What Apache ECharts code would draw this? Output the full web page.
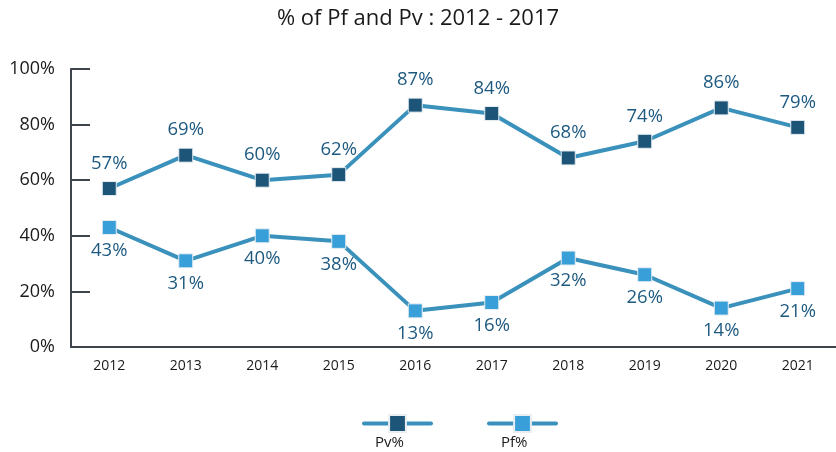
<!DOCTYPE html>
<html>
<head>
  <meta charset="UTF-8">
  <title>% of Pf and Pv</title>
  <style>
    html, body { margin: 0; padding: 0; background: #fff; }
    #chart { width: 836px; height: 452px; }
  </style>
  <script src="https://cdn.jsdelivr.net/npm/echarts@6/dist/echarts.min.js"></script>
</head>
<body>
<div id="chart"></div>
<script>
  var years = ['2012', '2013', '2014', '2015', '2016', '2017', '2018', '2019', '2020', '2021'];
  var pv = [57, 69, 60, 62, 87, 84, 68, 74, 86, 79];
  var pf = [43, 31, 40, 38, 13, 16, 32, 26, 14, 21];
  var yTicks = [0, 20, 40, 60, 80, 100];

  var font = '"Open Sans", "Noto Sans", sans-serif';
  var lineColor = '#3a91bb';
  var labelColor = '#1e5a80';

  var myChart = echarts.init(document.getElementById('chart'));

  var option = {
    backgroundColor: '#fff',
    title: {
      text: '% of Pf and Pv : 2012 - 2017',
      left: 'center',
      top: 3,
      textStyle: { color: '#1a1a1a', fontSize: 22, fontWeight: 'normal', fontFamily: font }
    },
    legend: {
      data: ['Pv%', 'Pf%'],
      left: 357,
      top: 408,
      itemWidth: 67,
      itemHeight: 21,
      itemGap: 54,
      lineStyle: { width: 4, cap: 'round' },
      formatter: function () { return ''; },
      selectedMode: false
    },
    graphic: [
      { type: 'text', left: 375, top: 435, style: { text: 'Pv%', fill: '#1a1a1a', fontSize: 15, fontFamily: font } },
      { type: 'text', left: 501, top: 435, style: { text: 'Pf%', fill: '#1a1a1a', fontSize: 15, fontFamily: font } }
    ],
    grid: { left: 71, right: 0, top: 69, bottom: 105 },
    xAxis: {
      type: 'category',
      data: years,
      boundaryGap: true,
      axisLine: { lineStyle: { color: '#3d444c', width: 2 } },
      axisTick: { inside: true, length: 6, lineStyle: { color: '#3d444c', width: 2 } },
      axisLabel: { color: '#1a1a1a', fontSize: 14, margin: 12, fontFamily: font }
    },
    yAxis: {
      type: 'value',
      min: yTicks[0],
      max: yTicks[yTicks.length - 1],
      interval: 20,
      axisLine: { show: true, lineStyle: { color: '#3d444c', width: 2 } },
      axisTick: { show: true, inside: true, length: 19, lineStyle: { color: '#3d444c', width: 2 } },
      splitLine: { show: false },
      axisLabel: { formatter: '{value}%', color: '#1a1a1a', fontSize: 18, margin: 16, fontFamily: font }
    },
    series: [{
      name: 'Pv%',
      type: 'line',
      data: pv,
      symbol: 'rect',
      symbolSize: 14,
      lineStyle: { color: lineColor, width: 4 },
      itemStyle: { color: '#1c5578', borderColor: '#e8eef2', borderWidth: 1 },
      label: {
        show: true, position: 'top', distance: 8, formatter: '{c}%',
        color: labelColor, fontSize: 18.5, fontFamily: font
      }
    }, {
      name: 'Pf%',
      type: 'line',
      data: pf,
      symbol: 'rect',
      symbolSize: 14,
      lineStyle: { color: lineColor, width: 4 },
      itemStyle: { color: '#389fd9', borderColor: '#e8eef2', borderWidth: 1 },
      label: {
        show: true, position: 'bottom', distance: 6, formatter: '{c}%',
        color: labelColor, fontSize: 18.5, fontFamily: font
      }
    }]
  };
  myChart.setOption(option);
</script>
</body>
</html>
